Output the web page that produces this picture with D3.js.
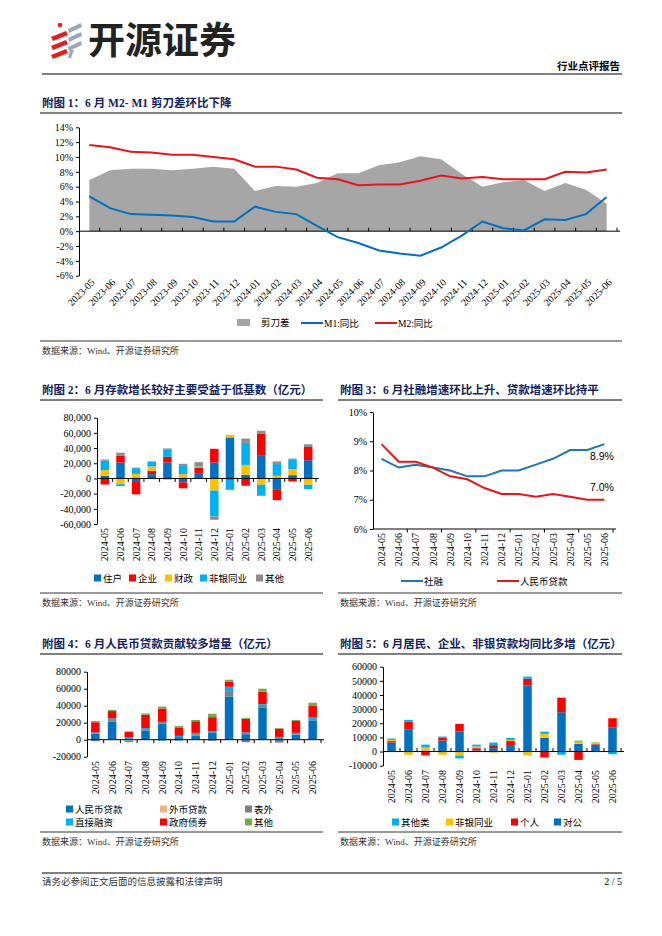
<!DOCTYPE html>
<html>
<head>
<meta charset="utf-8">
<script src="https://cdn.jsdelivr.net/npm/d3@7.9.0/dist/d3.min.js"></script>
<style>
  body { margin: 0; background: #fff; }
  svg text { font-family: "Liberation Serif", "Noto Sans CJK SC", serif; }
</style>
</head>
<body>
<svg id="page" width="662" height="936"></svg>
<script>
// ---- data ----
const months26 = ["2023-05","2023-06","2023-07","2023-08","2023-09","2023-10","2023-11","2023-12",
  "2024-01","2024-02","2024-03","2024-04","2024-05","2024-06","2024-07","2024-08","2024-09","2024-10",
  "2024-11","2024-12","2025-01","2025-02","2025-03","2025-04","2025-05","2025-06"];
const spread = [6.9, 8.2, 8.4, 8.4, 8.2, 8.4, 8.7, 8.4, 5.4, 6.1, 6.0, 6.5, 7.8, 7.8, 8.9, 9.3, 10.1, 9.7, 7.7, 6.0, 6.6, 6.9, 5.4, 6.5, 5.6, 3.7];
const m1Yoy = [4.7, 3.1, 2.3, 2.2, 2.1, 1.9, 1.3, 1.3, 3.3, 2.6, 2.3, 0.7, -0.8, -1.6, -2.6, -3.0, -3.3, -2.2, -0.6, 1.3, 0.4, 0.1, 1.6, 1.5, 2.3, 4.6];
const m2Yoy = [11.6, 11.3, 10.7, 10.6, 10.3, 10.3, 10.0, 9.7, 8.7, 8.7, 8.3, 7.2, 7.0, 6.2, 6.3, 6.3, 6.8, 7.5, 7.1, 7.3, 7.0, 7.0, 7.0, 8.0, 7.9, 8.3];

const months14 = ["2024-05","2024-06","2024-07","2024-08","2024-09","2024-10","2024-11",
  "2024-12","2025-01","2025-02","2025-03","2025-04","2025-05","2025-06"];

// 附图2 存款 (亿元)
const depHousehold = [3500, 21000, -3500, 5700, 21000, -5000, 7000, 21000, 54000, 4800, 30700, -15000, 4400, 24000];
const depCorp      = [-8000, 8800, -17500, 4400, 7500, -8000, 7500, 18000, -1800, -9600, 28500, -13600, -4000, 17500];
const depFiscal    = [7500, -7500, 6000, 5700, -2000, 5700, 1300, -16000, 3500, 13000, -8300, 3500, 7900, -8300];
const depNonbank   = [12500, -2500, 7500, 6600, 10000, 11800, 1800, -34000, -12300, 29000, -14500, 15400, 13000, -5700];
const depOther     = [1500, 4000, 800, -500, 1000, 1800, 3900, -4400, -1300, 5700, 3500, 3500, 900, 3500];

// 附图3 增速 (%)
const tsfGrowth  = [8.4, 8.1, 8.2, 8.1, 8.0, 7.8, 7.8, 8.0, 8.0, 8.2, 8.4, 8.7, 8.7, 8.9];
const loanGrowth = [8.9, 8.3, 8.3, 8.1, 7.8, 7.7, 7.4, 7.2, 7.2, 7.1, 7.2, 7.1, 7.0, 7.0];

// 附图4 社融分项 (亿元)
const afLoan   = [7000, 21600, -800, 10500, 19000, 3000, 5000, 8000, 51000, 6500, 38000, 800, 5900, 22700];
const afFx     = [-300, -500, -600, -200, -300, -300, -200, -300, 200, -400, -300, -400, -200, -200];
const afOffBS  = [-1500, 1500, -1400, 2000, 2000, -800, 1500, -1000, 6000, -2600, 3000, -3000, 200, 500];
const afDirect = [1500, 2000, 2500, 1200, -800, 1500, 1500, 2000, 5000, 2000, 1000, 2500, 2000, 3500];
const afGov    = [12000, 8600, 6500, 15700, 15700, 10000, 13700, 16500, 6000, 16000, 14500, 9700, 14000, 12900];
const afOther  = [1500, 1200, 800, 1500, 2300, 1500, 1500, 4000, 2300, 1200, 3500, 700, 1200, 3900];

// 附图5 贷款分项 (亿元)
const lnCorp     = [6400, 15800, 700, 7800, 14200, 800, 2400, 4000, 46700, 9700, 27800, 5400, 4700, 16900];
const lnPersonal = [1000, 5200, -2700, 1900, 5400, 1600, 2100, 3500, 4800, -4200, 10100, -5900, 500, 6700];
const lnNonbank  = [900, -2300, 2200, -2300, -2800, 1200, -800, 700, -2800, 2800, 600, 1600, 1200, 300];
const lnOther    = [900, 1400, 2000, 900, -2100, 1300, 1900, 1400, 1500, 1600, -2300, 700, 200, -1900];

// ---- styles ----
const NAVY = "#14235e", BLUE = "#0070C0", RED = "#FF0000", YEL = "#FFC000",
      LBLUE = "#00B0F0", GRAY = "#A5A5A5", DGRAY = "#8C8C8C", ORANGE = "#F4B183", GREEN = "#70AD47";

const svg = d3.select("#page");
svg.append("rect").attr("width", 662).attr("height", 936).attr("fill", "#fff");

const minus = s => s.replace("\u2212", "-");

// header
const logo = svg.append("g");
[33, 42, 51].forEach(yy => {
  logo.append("path").attr("d", `M51,${yy + 4} L66,${yy - 2} L68,${yy + 2} L53,${yy + 8} Z`).attr("fill", "#E02020");
});
logo.append("circle").attr("cx", 60).attr("cy", 25).attr("r", 2.3).attr("fill", "#E02020");
[25, 34, 43].forEach(yy => {
  logo.append("path").attr("d", `M68,${yy + 4} L81,${yy - 2} L82,${yy + 2} L69,${yy + 8} Z`).attr("fill", "#9AAAB5");
});
logo.append("path").attr("d", "M70,50 L74,50 L71,58 L68,58 Z").attr("fill", "#9AAAB5");
svg.append("text").attr("x", 88).attr("y", 54).text("开源证券")
  .style("font-family", "Noto Sans CJK SC").style("font-size", "37px").style("font-weight", "bold").attr("fill", "#222");
svg.append("line").attr("x1", 42).attr("x2", 622).attr("y1", 74).attr("y2", 74).attr("stroke", "#000").attr("stroke-width", 1.2);
svg.append("text").attr("x", 620).attr("y", 70).attr("text-anchor", "end").text("行业点评报告")
  .style("font-size", "10.5px").style("font-weight", "bold");

// footer
svg.append("line").attr("x1", 42).attr("x2", 622).attr("y1", 873).attr("y2", 873).attr("stroke", "#000").attr("stroke-width", 1.2);
svg.append("text").attr("x", 42).attr("y", 885).text("请务必参阅正文后面的信息披露和法律声明").style("font-size", "9.5px").attr("fill", "#333");
svg.append("text").attr("x", 622).attr("y", 885).attr("text-anchor", "end").text("2 / 5").style("font-size", "10px");

function title(x, y, w, txt) {
  svg.append("text").attr("x", x).attr("y", y + 4).text(txt)
    .style("font-size", "11.5px").style("font-weight", "bold").attr("fill", NAVY);
  svg.append("line").attr("x1", x - 2).attr("x2", x - 2 + w).attr("y1", y + 10).attr("y2", y + 10)
    .attr("stroke", "#000").attr("stroke-width", 1);
}
function source(x, y, w) {
  svg.append("line").attr("x1", x - 2).attr("x2", x - 2 + w).attr("y1", y - 10).attr("y2", y - 10)
    .attr("stroke", "#000").attr("stroke-width", 0.8);
  svg.append("text").attr("x", x).attr("y", y + 3).text("数据来源：Wind、开源证券研究所")
    .style("font-size", "9px").attr("fill", "#333");
}
function legendSquare(x, y, color, label) {
  svg.append("rect").attr("x", x).attr("y", y - 3.5).attr("width", 7).attr("height", 7).attr("fill", color);
  svg.append("text").attr("x", x + 9).attr("y", y + 3.5).text(label).style("font-size", "9.5px");
}
function legendLine(x, y, len, color, label) {
  svg.append("line").attr("x1", x).attr("x2", x + len).attr("y1", y).attr("y2", y).attr("stroke", color).attr("stroke-width", 2);
  svg.append("text").attr("x", x + len + 1).attr("y", y + 3.5).text(label).style("font-size", "9.5px");
}
function yAxis(y, xPos, vals, fmt) {
  const g = svg.append("g").attr("transform", `translate(${xPos},0)`)
    .call(d3.axisLeft(y).tickValues(vals).tickFormat(fmt).tickSize(3).tickSizeOuter(0));
  g.select(".domain").attr("stroke", "#000");
  g.selectAll("text").style("font-size", "10px").style("font-family", "Liberation Serif");
  return g;
}
function catTicks(x, cats, yPos, dir, every) {
  const step = x.step();
  const r = x.range();
  svg.append("line").attr("x1", r[0]).attr("x2", r[1] + 3).attr("y1", yPos).attr("y2", yPos)
    .attr("stroke", "#000").attr("stroke-width", 1);
  const idx = d3.range(1, cats.length + 1).filter(i => i % every === 0);
  svg.selectAll(null).data(idx).enter().append("line")
    .attr("x1", i => r[0] + i * step).attr("x2", i => r[0] + i * step)
    .attr("y1", yPos).attr("y2", yPos + dir * 3.5).attr("stroke", "#000");
}
function vertLabels(x, cats, yTop) {
  svg.selectAll(null).data(cats).enter().append("text")
    .attr("transform", d => `translate(${x(d) + x.bandwidth() / 2 + 3.5},${yTop}) rotate(-90)`)
    .attr("text-anchor", "end").text(d => d).style("font-size", "10px");
}
function stackedBars(x, y, cats, keys, arrays, colors, bw) {
  const rows = cats.map((c, i) => {
    const r = { cat: c };
    keys.forEach((k, j) => r[k] = arrays[j][i]);
    return r;
  });
  const layers = d3.stack().keys(keys).offset(d3.stackOffsetDiverging)(rows);
  svg.append("g").selectAll("g").data(layers).enter().append("g")
    .attr("fill", (d, i) => colors[i])
    .selectAll("rect").data(d => d).enter().append("rect")
    .attr("x", d => x(d.data.cat) + x.bandwidth() / 2 - bw / 2)
    .attr("width", bw)
    .attr("y", d => y(Math.max(d[0], d[1])))
    .attr("height", d => Math.abs(y(d[0]) - y(d[1])));
}

// ---- 附图1 ----
title(42, 103, 582, "附图 1：6 月 M2- M1 剪刀差环比下降");
{
  const x = d3.scaleBand().domain(months26).range([79, 617]);
  const y = d3.scaleLinear().domain([-6, 14]).range([275.7, 127.3]);
  const cx = d => x(d) + x.bandwidth() / 2;
  svg.append("path").datum(spread)
    .attr("d", d3.area().x((d, i) => cx(months26[i])).y0(y(0)).y1(d => y(d)))
    .attr("fill", "#A6A6A6");
  yAxis(y, 79, d3.range(-6, 15, 2), d => minus(d + "%"));
  catTicks(x, months26, y(0), -1, 1);
  svg.append("path").datum(m1Yoy).attr("fill", "none").attr("stroke", BLUE).attr("stroke-width", 2)
    .attr("d", d3.line().x((d, i) => cx(months26[i])).y(d => y(d)));
  svg.append("path").datum(m2Yoy).attr("fill", "none").attr("stroke", "#E8141B").attr("stroke-width", 2)
    .attr("d", d3.line().x((d, i) => cx(months26[i])).y(d => y(d)));
  svg.selectAll(null).data(months26).enter().append("text")
    .attr("transform", d => `translate(${cx(d) + 6},${283}) rotate(-45)`)
    .attr("text-anchor", "end").text(d => d).style("font-size", "10px");
  svg.append("rect").attr("x", 237).attr("y", 319).attr("width", 13).attr("height", 7).attr("fill", "#A6A6A6");
  svg.append("text").attr("x", 261).attr("y", 326).text("剪刀差").style("font-size", "9.5px");
  legendLine(301, 323, 22, BLUE, "M1:同比");
  legendLine(375, 323, 22, "#E8141B", "M2:同比");
  source(42, 351, 582);
}

// ---- 附图2 ----
title(42, 390, 283, "附图 2：6 月存款增长较好主要受益于低基数（亿元）");
{
  const x = d3.scaleBand().domain(months14).range([97, 316]);
  const y = d3.scaleLinear().domain([-60000, 80000]).range([524, 417.7]);
  stackedBars(x, y, months14, ["住户", "企业", "财政", "非银同业", "其他"],
    [depHousehold, depCorp, depFiscal, depNonbank, depOther], [BLUE, RED, YEL, LBLUE, DGRAY], 8.5);
  yAxis(y, 97, d3.range(-60000, 80001, 20000), d => minus(d3.format(",")(d)));
  catTicks(x, months14, y(0), 1, 1);
  vertLabels(x, months14, 528);
  [[94, BLUE, "住户"], [129, RED, "企业"], [165, YEL, "财政"], [200, LBLUE, "非银同业"], [256, DGRAY, "其他"]]
    .forEach(([lx, c, t]) => legendSquare(lx, 578, c, t));
  source(42, 603, 283);
}

// ---- 附图3 ----
title(340, 390, 284, "附图 3：6 月社融增速环比上升、贷款增速环比持平");
{
  const x = d3.scaleBand().domain(months14).range([373, 613]);
  const y = d3.scaleLinear().domain([6, 10]).range([529, 412]);
  const cx = d => x(d) + x.bandwidth() / 2;
  yAxis(y, 373, [6, 7, 8, 9, 10], d => d + "%");
  catTicks(x, months14, 529, 1, 2);
  svg.append("path").datum(tsfGrowth).attr("fill", "none").attr("stroke", "#1F77B4").attr("stroke-width", 2)
    .attr("d", d3.line().x((d, i) => cx(months14[i])).y(d => y(d)));
  svg.append("path").datum(loanGrowth).attr("fill", "none").attr("stroke", "#E8141B").attr("stroke-width", 2)
    .attr("d", d3.line().x((d, i) => cx(months14[i])).y(d => y(d)));
  svg.append("text").attr("x", 590).attr("y", 460).text(tsfGrowth[13].toFixed(1) + "%")
    .style("font-family", "Liberation Sans").style("font-size", "10.5px");
  svg.append("text").attr("x", 590).attr("y", 491).text(loanGrowth[13].toFixed(1) + "%")
    .style("font-family", "Liberation Sans").style("font-size", "10.5px");
  vertLabels(x, months14, 533);
  legendLine(401, 581, 22, "#1F77B4", "社融");
  legendLine(497, 581, 22, "#E8141B", "人民币贷款");
  source(340, 603, 284);
}

// ---- 附图4 ----
title(42, 644, 283, "附图 4：6 月人民币贷款贡献较多增量（亿元）");
{
  const x = d3.scaleBand().domain(months14).range([87, 321]);
  const y = d3.scaleLinear().domain([-20000, 80000]).range([756.7, 671.7]);
  stackedBars(x, y, months14, ["人民币贷款", "外币贷款", "表外", "直接融资", "政府债券", "其他"],
    [afLoan, afFx, afOffBS, afDirect, afGov, afOther], [BLUE, ORANGE, "#7F7F7F", LBLUE, RED, GREEN], 8.5);
  yAxis(y, 87, d3.range(-20000, 80001, 20000), d => minus(String(d)));
  catTicks(x, months14, y(0), 1, 1);
  vertLabels(x, months14, 761);
  [[66, 809, BLUE, "人民币贷款"], [160, 809, ORANGE, "外币贷款"], [245, 809, "#7F7F7F", "表外"],
   [66, 822, LBLUE, "直接融资"], [160, 822, RED, "政府债券"], [245, 822, GREEN, "其他"]]
    .forEach(([lx, ly, c, t]) => legendSquare(lx, ly, c, t));
  source(42, 842, 283);
}

// ---- 附图5 ----
title(340, 644, 284, "附图 5：6 月居民、企业、非银贷款均同比多增（亿元）");
{
  const x = d3.scaleBand().domain(months14).range([383, 621]);
  const y = d3.scaleLinear().domain([-10000, 60000]).range([765.7, 666.7]);
  stackedBars(x, y, months14, ["对公", "个人", "非银同业", "其他类"],
    [lnCorp, lnPersonal, lnNonbank, lnOther], [BLUE, RED, YEL, LBLUE], 8.5);
  yAxis(y, 383, d3.range(-10000, 60001, 10000), d => minus(String(d)));
  catTicks(x, months14, y(0), -1, 1);
  vertLabels(x, months14, 770);
  [[392, LBLUE, "其他类"], [446, YEL, "非银同业"], [511, RED, "个人"], [554, BLUE, "对公"]]
    .forEach(([lx, c, t]) => legendSquare(lx, 822, c, t));
  source(340, 842, 284);
}
</script>
</body>
</html>
